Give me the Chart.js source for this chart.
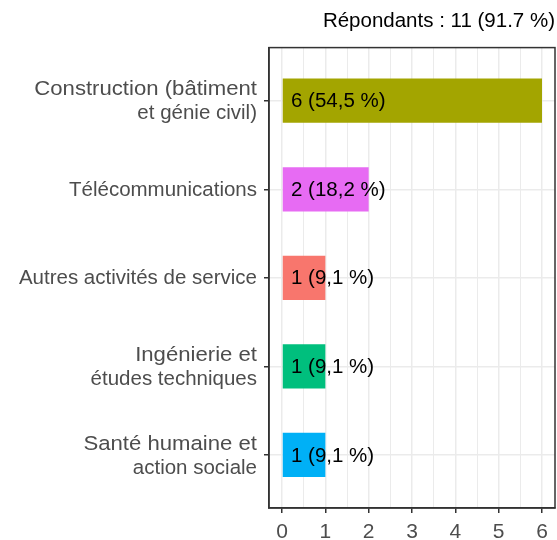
<!DOCTYPE html>
<html>
<head>
<meta charset="utf-8">
<script src="https://cdn.jsdelivr.net/npm/chart.js@4/dist/chart.umd.min.js"></script>
<style>
    html, body { margin: 0; padding: 0; background: #fff; }
    #wrap { width: 557px; height: 540px; }
</style>
</head>
<body>
<div id="wrap"><canvas id="myChart"></canvas></div>
<script>
const categories = [
    ["Construction (bâtiment", "et génie civil)"],
    ["Télécommunications"],
    ["Autres activités de service"],
    ["Ingénierie et", "études techniques"],
    ["Santé humaine et", "action sociale"]
];
const counts = [6, 2, 1, 1, 1];
const percents = ["54,5", "18,2", "9,1", "9,1", "9,1"];
const colors = ["#A3A500", "#E76BF3", "#F8766D", "#00BF7D", "#00B0F6"];
const xTicks = [0, 0.5, 1, 1.5, 2, 2.5, 3, 3.5, 4, 4.5, 5, 5.5, 6];
const titleText = "Répondants : 11 (91.7 %)";

const FONT = "'Liberation Sans', Arial, sans-serif";
Chart.defaults.font.family = FONT;

const isMajor = v => Number.isInteger(v);

// category labels, labels inside bars, panel border
const extras = {
    id: 'extras',
    afterDatasetsDraw(chart) {
        const ctx = chart.ctx;
        const xs = chart.scales.x, ys = chart.scales.y;
        const x0 = xs.getPixelForValue(0);
        const meta = chart.getDatasetMeta(0);
        ctx.save();
        ctx.textBaseline = 'middle';

        // bar labels
        ctx.fillStyle = '#000';
        ctx.font = `20.5px ${FONT}`;
        ctx.textAlign = 'left';
        meta.data.forEach((bar, i) => {
            ctx.fillText(`${counts[i]} (${percents[i]} %)`, x0 + 9, bar.y + 1);
        });

        // y category labels; the first line of a wrapped label is stretched a bit, like the original
        ctx.fillStyle = '#4D4D4D';
        ctx.textAlign = 'right';
        ctx.font = `20.5px ${FONT}`;
        const right = ys.right - 12;
        categories.forEach((lines, i) => {
            const cy = ys.getPixelForValue(i) + 1;
            const n = lines.length;
            lines.forEach((line, k) => {
                const y = cy + (k - (n - 1) / 2) * 24;
                const sx = (n > 1 && k === 0) ? 1.08 : 1;
                ctx.save();
                ctx.translate(right, y);
                ctx.scale(sx, 1);
                ctx.fillText(line, 0, 0);
                ctx.restore();
            });
        });
        ctx.restore();
    },
    afterDraw(chart) {
        const a = chart.chartArea;
        const ctx = chart.ctx;
        ctx.save();
        ctx.strokeStyle = '#333333';
        ctx.lineWidth = 1.5;
        ctx.strokeRect(a.left, a.top, a.right - a.left, a.bottom - a.top);
        ctx.restore();
    }
};

new Chart(document.getElementById('myChart'), {
    type: 'bar',
    data: {
        datasets: [{
            data: counts.map((c, i) => ({x: c, y: i})),
            backgroundColor: colors,
            categoryPercentage: 1,
            barPercentage: 0.5
        }]
    },
    options: {
        indexAxis: 'y',
        responsive: true,
        maintainAspectRatio: false,
        animation: false,
        layout: {padding: {right: 2}},
        plugins: {
            legend: {display: false},
            tooltip: {enabled: false},
            title: {
                display: true,
                text: titleText,
                align: 'end',
                color: '#000',
                font: {size: 20.5, weight: 'normal'},
                padding: {top: 9, bottom: 14}
            }
        },
        scales: {
            x: {
                type: 'linear',
                min: -0.3,
                max: 6.3,
                afterBuildTicks: s => { s.ticks = xTicks.map(v => ({value: v})); },
                afterFit: s => { s.height = 32; },
                grid: {
                    color: '#EBEBEB',
                    lineWidth: c => isMajor(c.tick.value) ? 1.5 : 1,
                    tickColor: c => isMajor(c.tick.value) ? '#333333' : 'rgba(0,0,0,0)',
                    tickLength: 5
                },
                border: {display: true, color: '#333333', width: 1.5},
                ticks: {
                    color: '#4D4D4D',
                    font: {size: 21},
                    padding: 7,
                    maxRotation: 0,
                    autoSkip: false,
                    callback: v => isMajor(v) ? v : ''
                }
            },
            y: {
                type: 'linear',
                reverse: true,
                offset: false,
                min: -0.6,
                max: categories.length - 0.4,
                afterBuildTicks: s => { s.ticks = categories.map((c, i) => ({value: i})); },
                afterFit: s => { s.width = 269; },
                grid: {
                    offset: false,
                    color: '#EBEBEB',
                    lineWidth: 1.5,
                    tickColor: '#333333',
                    tickLength: 5
                },
                border: {display: true, color: '#333333', width: 1.5},
                ticks: {
                    autoSkip: false,
                    callback: () => ''
                }
            }
        }
    },
    plugins: [extras]
});
</script>
</body>
</html>
